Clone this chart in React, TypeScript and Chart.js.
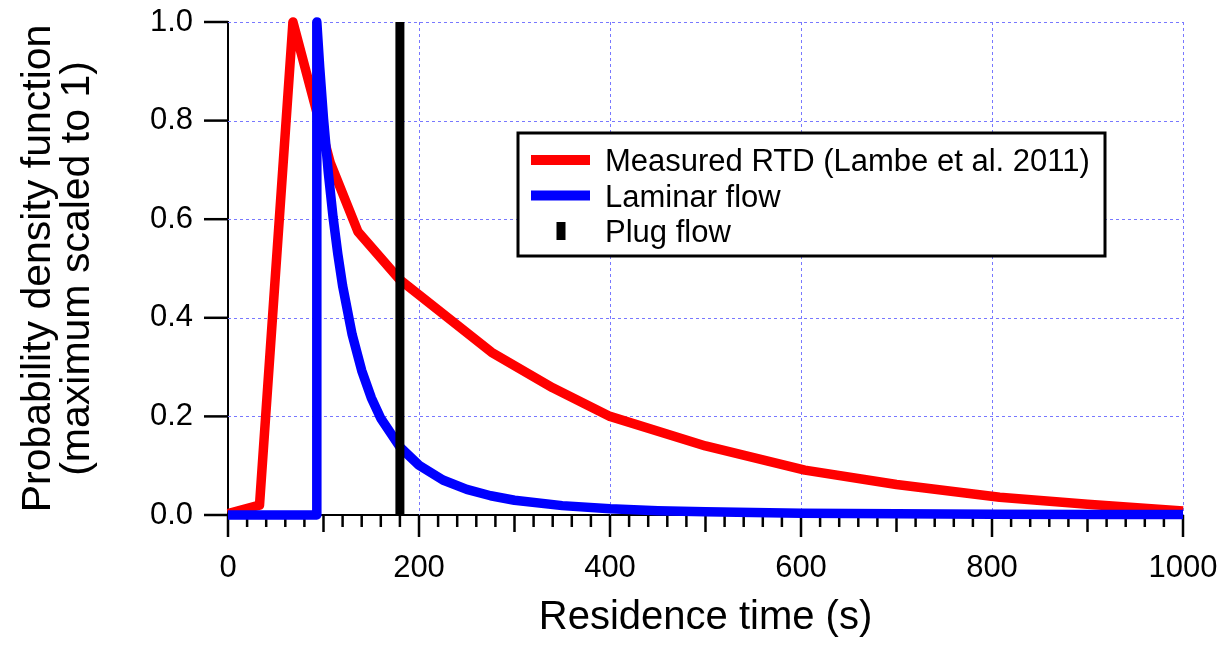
import React, { useEffect, useRef } from 'react';
import { Chart, registerables } from 'chart.js';

Chart.register(...registerables);

// ---- Data ----
const measuredTime = [0, 33, 68, 107, 136, 180, 276, 340, 400, 500, 604, 700, 808, 900, 1000];
const measuredPdf = [0.003, 0.02, 1.0, 0.715, 0.575, 0.477, 0.33, 0.258, 0.2, 0.14, 0.091, 0.062, 0.036, 0.022, 0.008];

const laminarTime = [0, 93, 93, 96, 100, 105, 110, 115, 120, 130, 140, 150, 160, 180, 200, 225, 250, 275, 300, 350, 400, 450, 500, 600, 700, 800, 900, 1000];
const laminarPdf = [0, 0, 1.0, 0.909, 0.804, 0.695, 0.604, 0.529, 0.465, 0.366, 0.293, 0.238, 0.196, 0.138, 0.101, 0.071, 0.052, 0.039, 0.030, 0.019, 0.0126, 0.0088, 0.0064, 0.0037, 0.0024, 0.0016, 0.0011, 0.0008];

const plugTime = [180, 180];
const plugPdf = [0, 1.0];

const seriesLabels = ['Measured RTD (Lambe et al. 2011)', 'Laminar flow', 'Plug flow'];
const seriesColors = ['#ff0000', '#0000ff', '#000000'];

const xTickLabels = ['0', '200', '400', '600', '800', '1000'];
const yTickLabels = ['0.0', '0.2', '0.4', '0.6', '0.8', '1.0'];
const xTitle = 'Residence time (s)';
const yTitle = ['Probability density function', '(maximum scaled to 1)'];

const FONT = "'Liberation Sans', Arial, Helvetica, sans-serif";

const toPoints = (xs: number[], ys: number[]) => xs.map((x, i) => ({ x, y: ys[i] }));

const axisDecor = {
  id: 'axisDecor',
  beforeDatasetsDraw(chart: any) {
    const { ctx, chartArea: a, scales } = chart;
    const xs = scales.x;
    const ys = scales.y;
    ctx.save();
    // dashed grid
    ctx.strokeStyle = 'rgb(120,120,255)';
    ctx.lineWidth = 1;
    ctx.setLineDash([3, 3]);
    xTickLabels.forEach((lab) => {
      const v = Number(lab);
      if (v === 0) return;
      const px = Math.round(xs.getPixelForValue(v)) + 0.5;
      ctx.beginPath();
      ctx.moveTo(px, a.top);
      ctx.lineTo(px, a.bottom);
      ctx.stroke();
    });
    yTickLabels.forEach((lab) => {
      const v = Number(lab);
      if (v === 0) return;
      const py = Math.round(ys.getPixelForValue(v)) + 0.5;
      ctx.beginPath();
      ctx.moveTo(a.left, py);
      ctx.lineTo(a.right, py);
      ctx.stroke();
    });
    ctx.setLineDash([]);
    // tick marks
    ctx.strokeStyle = '#000';
    ctx.lineWidth = 2.5;
    const xmin = xs.min, xmax = xs.max;
    for (let v = xmin; v <= xmax + 1e-9; v += 20) {
      const len = v % 200 === 0 ? 22 : v % 100 === 0 ? 17 : 12;
      const px = xs.getPixelForValue(v);
      ctx.beginPath();
      ctx.moveTo(px, a.bottom);
      ctx.lineTo(px, a.bottom + len);
      ctx.stroke();
    }
    yTickLabels.forEach((lab) => {
      const py = ys.getPixelForValue(Number(lab));
      ctx.beginPath();
      ctx.moveTo(a.left - 24, py);
      ctx.lineTo(a.left, py);
      ctx.stroke();
    });
    ctx.restore();
  },
  afterDraw(chart: any) {
    const { ctx } = chart;
    ctx.save();
    const box = { left: 518, top: 133, right: 1105, bottom: 256 };
    ctx.fillStyle = '#fff';
    ctx.fillRect(box.left, box.top, box.right - box.left, box.bottom - box.top);
    ctx.strokeStyle = '#000';
    ctx.lineWidth = 3;
    ctx.strokeRect(box.left, box.top, box.right - box.left, box.bottom - box.top);
    const rows = [160, 195.5, 231];
    chart.data.datasets.forEach((ds: any, i: number) => {
      const cy = rows[i];
      ctx.fillStyle = ds.borderColor;
      if (ds.legendMarker === 'bar') {
        ctx.fillRect(556.5, cy - 9, 9, 18);
      } else {
        ctx.fillRect(531, cy - 5, 59, 10);
      }
      ctx.fillStyle = '#000';
      ctx.font = `31px ${FONT}`;
      ctx.textBaseline = 'alphabetic';
      ctx.textAlign = 'left';
      ctx.fillText(ds.label, 605, cy + 11);
    });
    ctx.restore();
  },
};

export default function App() {
  const canvasRef = useRef<HTMLCanvasElement | null>(null);

  useEffect(() => {
    document.body.style.margin = '0';
    const canvas = canvasRef.current;
    if (!canvas) return;
    Chart.defaults.font.family = FONT;
    Chart.defaults.color = '#000';
    const lineCommon = {
      borderWidth: 9.5,
      borderJoinStyle: 'round',
      borderCapStyle: 'butt',
      pointRadius: 0,
      tension: 0,
      clip: 8,
    };
    const chart = new Chart(canvas, {
      type: 'line',
      data: {
        datasets: [
          {
            ...lineCommon,
            label: seriesLabels[0],
            data: toPoints(measuredTime, measuredPdf),
            borderColor: seriesColors[0],
            backgroundColor: seriesColors[0],
            order: 3,
            legendMarker: 'line',
          } as any,
          {
            ...lineCommon,
            label: seriesLabels[1],
            data: toPoints(laminarTime, laminarPdf),
            borderColor: seriesColors[1],
            backgroundColor: seriesColors[1],
            order: 2,
            legendMarker: 'line',
          } as any,
          {
            ...lineCommon,
            label: seriesLabels[2],
            data: toPoints(plugTime, plugPdf),
            borderColor: seriesColors[2],
            backgroundColor: seriesColors[2],
            borderWidth: 9,
            borderJoinStyle: 'miter',
            order: 1,
            legendMarker: 'bar',
          } as any,
        ],
      },
      options: {
        animation: false,
        responsive: false,
        devicePixelRatio: 1,
        parsing: false as any,
        layout: { padding: { top: 22, right: 40, left: 0, bottom: 0 } },
        plugins: { legend: { display: false }, tooltip: { enabled: false } },
        scales: {
          x: {
            type: 'linear',
            min: 0,
            max: 1000,
            afterFit: (s: any) => {
              s.height = 132;
              s.paddingLeft = 0;
              s.paddingRight = 0;
              s.paddingTop = 0;
              s.paddingBottom = 0;
            },
            grid: { display: true, drawOnChartArea: false, drawTicks: true, tickLength: 22, tickColor: 'rgba(0,0,0,0)' },
            border: { display: true, color: '#000', width: 2 },
            ticks: {
              stepSize: 200,
              padding: 13,
              font: { size: 31 },
              color: '#000',
              maxRotation: 0,
              autoSkip: false,
              callback: (_v: any, i: number) => xTickLabels[i],
            },
            title: {
              display: true,
              text: xTitle,
              font: { size: 40, lineHeight: 1.0 },
              color: '#000',
              padding: { top: 0, bottom: 9 },
            },
          },
          y: {
            type: 'linear',
            min: 0,
            max: 1,
            afterFit: (s: any) => {
              s.width = 228;
              s.paddingLeft = 0;
              s.paddingRight = 0;
              s.paddingTop = 0;
              s.paddingBottom = 0;
            },
            grid: { display: true, drawOnChartArea: false, drawTicks: true, tickLength: 24, tickColor: 'rgba(0,0,0,0)' },
            border: { display: true, color: '#000', width: 2 },
            ticks: {
              stepSize: 0.2,
              padding: 11,
              font: { size: 31 },
              color: '#000',
              autoSkip: false,
              callback: (_v: any, i: number) => yTickLabels[i],
            },
            title: {
              display: true,
              text: yTitle,
              font: { size: 41, lineHeight: 0.93 },
              color: '#000',
              padding: { top: 20, bottom: 0 },
            },
          },
        },
      },
      plugins: [axisDecor],
    });
    return () => chart.destroy();
  }, []);

  return (
    <div style={{ width: 1223, height: 647 }}>
      <canvas ref={canvasRef} width={1223} height={647} style={{ display: 'block', width: 1223, height: 647 }} />
    </div>
  );
}
